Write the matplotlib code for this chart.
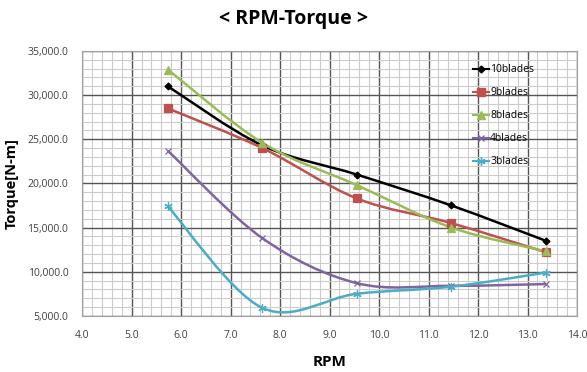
import numpy as np
import matplotlib
matplotlib.use("Agg")
import matplotlib.pyplot as plt
from matplotlib.path import Path
from matplotlib.patches import PathPatch
from matplotlib.lines import Line2D
from matplotlib.ticker import MultipleLocator, FuncFormatter

plt.rcParams['font.family'] = ['Open Sans', 'DejaVu Sans']

rpm = [5.73, 7.64, 9.55, 11.46, 13.37]
labels = ["10blades", "9blades", "8blades", "4blades", "3blades"]
torque_10 = [31000, 24300, 21000, 17500, 13500]
torque_9 = [28500, 24000, 18300, 15500, 12200]
torque_8 = [32900, 24600, 19800, 15000, 12300]
torque_4 = [23700, 13800, 8700, 8400, 8600]
torque_3 = [17400, 5900, 7500, 8300, 9900]

series = [torque_10, torque_9, torque_8, torque_4, torque_3]
colors = ["#000000", "#C0504D", "#9BBB59", "#8064A2", "#4BACC6"]
markers = ["D", "s", "^", "x", (6, 2, 0)]
msizes = [3.5, 6, 6, 5, 6]


def smooth_path(x, y):
    # bezier through the points, like excel's smoothed line
    pts = np.column_stack([x, y]).astype(float)
    n = len(pts)
    verts = [pts[0]]
    codes = [Path.MOVETO]
    for i in range(n - 1):
        p0 = pts[i - 1] if i > 0 else pts[i]
        p1 = pts[i]
        p2 = pts[i + 1]
        p3 = pts[i + 2] if i + 2 < n else pts[i + 1]
        c1 = p1 + (p2 - p0) / 6.0
        c2 = p2 - (p3 - p1) / 6.0
        verts += [c1, c2, p2]
        codes += [Path.CURVE4] * 3
    return Path(verts, codes)


fig = plt.figure(figsize=(5.87, 3.72), dpi=100)
ax = fig.add_axes([0.140, 0.151, 0.843, 0.712])

for ys, c, m, ms in zip(series, colors, markers, msizes):
    patch = PathPatch(smooth_path(rpm, ys), facecolor="none", edgecolor=c,
                      lw=1.8, zorder=3)
    ax.add_patch(patch)
    ax.plot(rpm, ys, linestyle="none", marker=m, color=c, markersize=ms,
            markeredgewidth=0.9, zorder=4)

ax.set_xlim(4, 14)
ax.set_ylim(5000, 35000)
ax.xaxis.set_major_locator(MultipleLocator(1))
ax.xaxis.set_minor_locator(MultipleLocator(0.2))
ax.yaxis.set_major_locator(MultipleLocator(5000))
ax.yaxis.set_minor_locator(MultipleLocator(1000))
ax.xaxis.set_major_formatter(FuncFormatter(lambda v, p: f"{v:.1f}"))
ax.yaxis.set_major_formatter(FuncFormatter(lambda v, p: f"{v:,.1f}"))

ax.grid(which="major", color="#555555", lw=1.0, zorder=1)
ax.grid(which="minor", color="#cccccc", lw=0.8, zorder=0)
ax.set_axisbelow(True)
ax.tick_params(which="both", length=0)
ax.tick_params(axis="both", labelsize=7.5, colors="#404040", pad=10)
for s in ax.spines.values():
    s.set_color("#a0a0a0")

ax.set_xlabel("RPM", fontsize=11, fontweight="bold", labelpad=10)
ax.set_ylabel("Torque[N-m]", fontsize=10.5, fontweight="bold", labelpad=6)
fig.suptitle("< RPM-Torque >", fontsize=14, fontweight="bold", y=0.975)

handles = [Line2D([0], [0], color=c, marker=m, markersize=ms, lw=1.5)
           for c, m, ms in zip(colors, markers, msizes)]
ax.legend(handles, labels, loc="upper left", bbox_to_anchor=(0.77, 0.985),
          frameon=False, fontsize=7.5, handlelength=1.6, handletextpad=0.1,
          labelspacing=1.15)

fig.savefig("out.png", dpi=100)
